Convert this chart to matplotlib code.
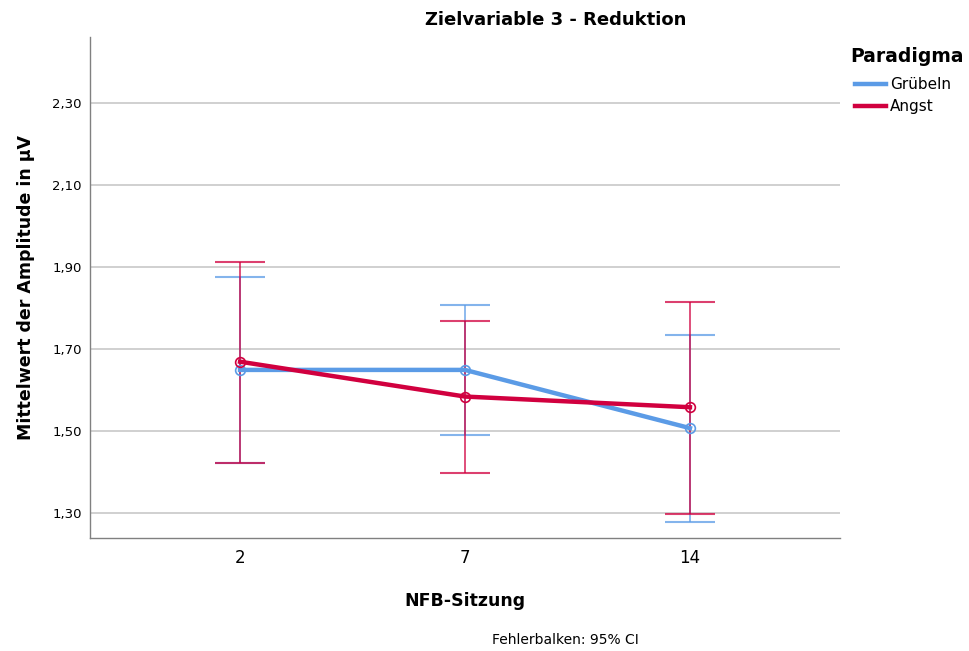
import matplotlib
matplotlib.use("Agg")
import matplotlib.pyplot as plt
import numpy as np

sessions = ["2", "7", "14"]
series = ["Grübeln", "Angst"]
means_gruebeln = [1.649, 1.649, 1.507]
lower_gruebeln = [1.422, 1.490, 1.279]
upper_gruebeln = [1.876, 1.807, 1.734]
means_angst = [1.669, 1.584, 1.558]
lower_angst = [1.422, 1.398, 1.298]
upper_angst = [1.912, 1.769, 1.815]
yticks = [1.30, 1.50, 1.70, 1.90, 2.10, 2.30]
ytick_labels = ["1,30", "1,50", "1,70", "1,90", "2,10", "2,30"]

colors = ["#5B9BE6", "#D1003F"]

fig = plt.figure(figsize=(9.69, 6.51), dpi=100)
ax = fig.add_axes([90/969, 1-538/651, 750/969, 501/651])

x = np.arange(len(sessions))
data = [(means_gruebeln, lower_gruebeln, upper_gruebeln),
        (means_angst, lower_angst, upper_angst)]

handles = []
for (m, lo, up), c, name in zip(data, colors, series):
    m = np.array(m); lo = np.array(lo); up = np.array(up)
    ax.errorbar(x, m, yerr=[m - lo, up - m], fmt="none", ecolor=c,
                elinewidth=1.3, capsize=18, capthick=1.5, alpha=0.75, zorder=3)
    h, = ax.plot(x, m, color=c, lw=3.2, zorder=4, label=name)
    ax.plot(x, m, 'o', mfc="none", mec=c, ms=7, mew=1.2, zorder=5)
    handles.append(h)

ax.set_xlim(-0.667, 2.667)
ax.set_ylim(1.239, 2.461)
ax.set_xticks(x)
ax.set_xticklabels(sessions, fontsize=12)
ax.set_yticks(yticks)
ax.set_yticklabels(ytick_labels, fontsize=9.5)
ax.tick_params(axis="x", length=0, pad=8)
ax.tick_params(axis="y", length=0, pad=6)
ax.grid(axis="y", color="#c8c8c8", lw=1.2)
ax.set_axisbelow(True)
for s in ["top", "right"]:
    ax.spines[s].set_visible(False)
for s in ["left", "bottom"]:
    ax.spines[s].set_color("#808080")
    ax.spines[s].set_linewidth(1)

fig.text(556/969, 1-20/651, "Zielvariable 3 - Reduktion", ha="center", va="center",
         fontsize=13, fontweight="bold")
ax.set_xlabel("NFB-Sitzung", fontsize=12.5, fontweight="bold", labelpad=18)
ax.set_ylabel("Mittelwert der Amplitude in µV", fontsize=12.5, fontweight="bold", labelpad=12)

fig.text(850/969, 1-57/651, "Paradigma", ha="left", va="center",
         fontsize=13.5, fontweight="bold")
leg = fig.legend(handles=handles, labels=series,
                 loc="upper left", bbox_to_anchor=(855/969, 1-77/651), frameon=False,
                 fontsize=11, handlelength=2.0, handletextpad=0.3, labelspacing=0.45,
                 borderaxespad=0, borderpad=0)

fig.text(565/969, 1-640/651, "Fehlerbalken: 95% CI", ha="center", va="center", fontsize=10)

fig.savefig("out.png", dpi=100)
